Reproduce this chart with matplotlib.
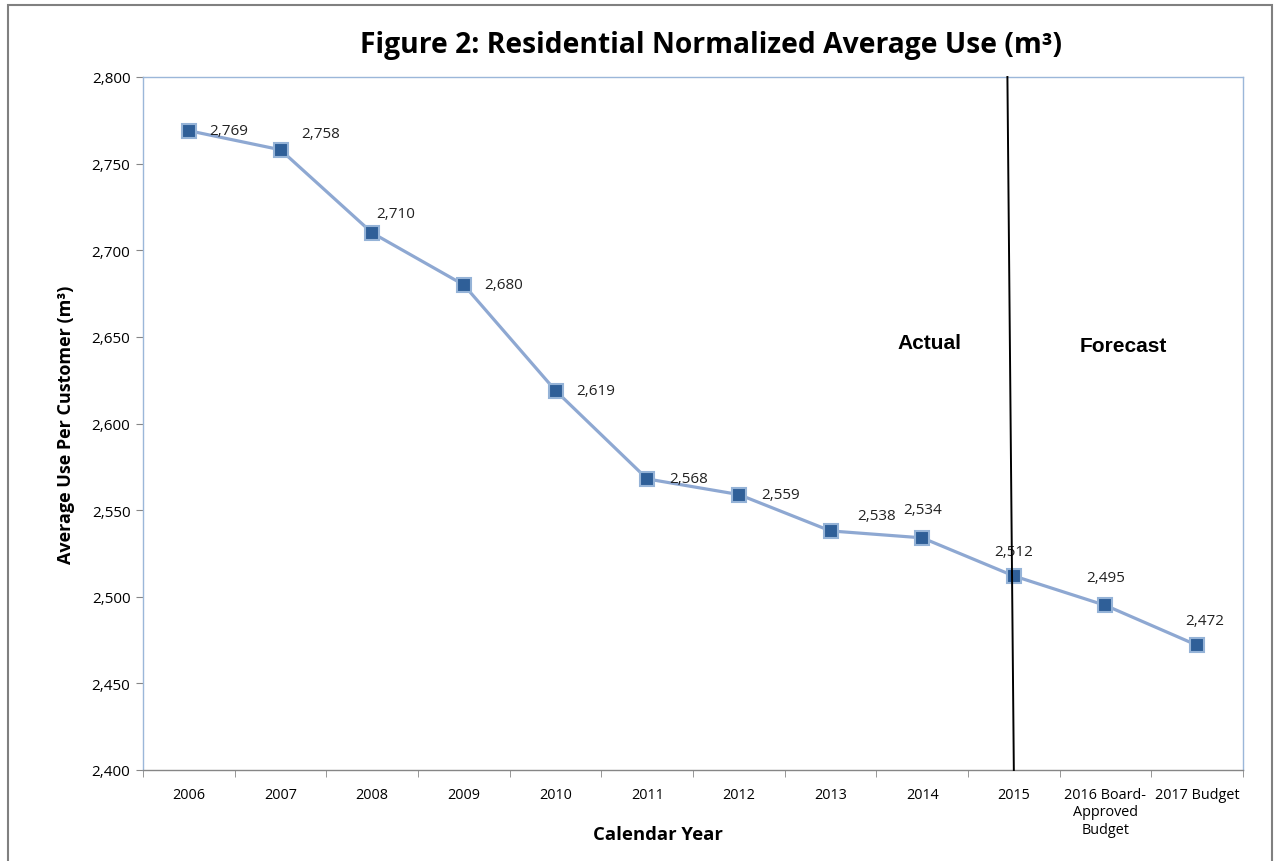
import numpy as np
import matplotlib.pyplot as plt

# data
categories = ["2006", "2007", "2008", "2009", "2010", "2011", "2012",
              "2013", "2014", "2015", "2016 Board-\nApproved\nBudget", "2017 Budget"]
avg_use = [2769, 2758, 2710, 2680, 2619, 2568, 2559, 2538, 2534, 2512, 2495, 2472]
# label offsets in pixels (dx, dy) as placed in the original
label_offsets = [(40, 0), (40, 16), (24, 19), (40, 0), (40, 0), (41, 0),
                 (42, 0), (46, 15), (0, 28), (0, 24), (0, 28), (8, 25)]

plt.rcParams['font.family'] = ['Open Sans', 'DejaVu Sans']

W, H = 1277, 862
fig = plt.figure(figsize=(W / 100, H / 100), dpi=100)
ax = fig.add_axes([143 / W, 1 - 771 / H, 1100 / W, 693 / H])

x = np.arange(len(categories))
ax.plot(x, avg_use, color="#8EA8D2", lw=2.3, marker="s", markersize=10,
        markerfacecolor="#2F5F98", markeredgecolor="#95B3D7", markeredgewidth=1.5,
        zorder=3)

for xi, v, (dx, dy) in zip(x, avg_use, label_offsets):
    ax.annotate(f"{v:,}", (xi, v), xytext=(dx, dy), textcoords="offset pixels",
                ha="center", va="center", fontsize=11, color="#222222", zorder=4)

ax.set_xlim(-0.5, len(categories) - 0.5)
ax.set_ylim(2400, 2800)
ax.set_yticks(np.arange(2400, 2801, 50))
ax.set_yticklabels([f"{t:,}" for t in range(2400, 2801, 50)], fontsize=11)
ax.set_xticks(x)
ax.set_xticklabels(categories, fontsize=10.4, linespacing=1.25, va="top")
ax.set_xticks(np.arange(-0.5, len(categories)), minor=True)
ax.tick_params(axis="x", which="major", length=0, pad=12)
ax.tick_params(axis="x", which="minor", length=5, color="#868686", direction="out")
ax.tick_params(axis="y", length=5, color="#868686", direction="out", pad=4)

for s in ax.spines.values():
    s.set_color("#9BB7D9")
    s.set_linewidth(1)
ax.spines["bottom"].set_color("#868686")

# divider between actual and forecast
ax.plot([9.0, 8.93], [2400, 2800], color="black", lw=1.4, zorder=5, clip_on=False)
fig.text(929 / W, 1 - 344 / H, "Actual", ha="center", va="center",
         fontsize=15, fontweight="bold", family="Liberation Sans")
fig.text(1123 / W, 1 - 346 / H, "Forecast", ha="center", va="center",
         fontsize=15, fontweight="bold", family="Liberation Sans")

fig.text(711 / W, 1 - 45 / H, "Figure 2: Residential Normalized Average Use (m³)",
         ha="center", va="center", fontsize=20.3, fontweight="bold")
ax.set_ylabel("Average Use Per Customer (m³)", fontsize=13, fontweight="bold",
              labelpad=12)
fig.text(658 / W, 1 - 835 / H, "Calendar Year", ha="center", va="center",
         fontsize=13.3, fontweight="bold")

# chart border
fig.patches.append(plt.Rectangle((8 / W, -0.01), 1264 / W, 1 - 6 / H + 0.01,
                                 transform=fig.transFigure, fill=False,
                                 edgecolor="#808080", lw=1.5))

fig.savefig("out.png", dpi=100)
